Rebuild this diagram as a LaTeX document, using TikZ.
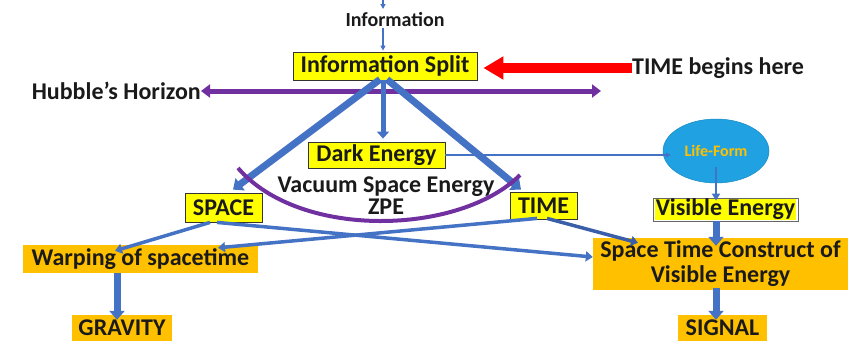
\documentclass[tikz,border=0pt]{standalone}
\usepackage{fontspec}
\setmainfont{Carlito}
\usetikzlibrary{arrows.meta,shapes.geometric,calc}
\definecolor{ablue}{HTML}{4472C4}
\definecolor{dblue}{HTML}{3A5FA8}
\definecolor{apurple}{HTML}{7030A0}
\definecolor{ared}{HTML}{FF0000}
\definecolor{ayellow}{HTML}{FFFF00}
\definecolor{aorange}{HTML}{FFC000}
\definecolor{lblue}{HTML}{20A2E2}
\definecolor{txt}{HTML}{1A1A1A}
\begin{document}
\begin{tikzpicture}[x=1pt,y=-1pt,
  lbl/.style={font=\fontsize{24}{26}\selectfont\bfseries, text=txt, inner sep=0pt},
  ybox/.style={lbl, fill=ayellow, draw=black!80, line width=0.8pt, minimum width=#1},
  obox/.style={lbl, fill=aorange, minimum width=#1},
  thick arrow/.style={draw=ablue, line width=7pt, -{Triangle[length=9pt,width=15pt]}},
  mid arrow/.style={draw=ablue, line width=3.5pt, -{Triangle[length=7pt,width=10pt]}},
  thin arrow/.style={draw=ablue, line width=1.5pt, -{Triangle[length=5pt,width=5pt]}}]
\useasboundingbox (0,0) rectangle (848,341);
% nodes
\node[lbl, font=\fontsize{20}{22}\selectfont\bfseries] (info) at (395,20) {Information};
\coordinate (top) at (383,0);
\node[ybox=184pt, minimum height=28pt] (isplit) at (385,66) {Information Split};
\node[lbl, anchor=west] (tbh) at (632,68) {TIME begins here};
\node[lbl, anchor=east] (hubble) at (201,91) {Hubble’s Horizon};
\coordinate (hend) at (601,91);
\node[ybox=137pt, minimum height=26pt] (dark) at (376.5,155) {Dark Energy};
\node[ybox=77pt, minimum height=29pt] (space) at (223.5,207.5) {SPACE};
\node[ybox=67pt, minimum height=27pt] (time) at (543.5,205.5) {TIME};
\node[lbl, align=center, font=\fontsize{24}{22}\selectfont\bfseries] (vac) at (386,196) {Vacuum Space Energy\\ZPE};
\node[ellipse, fill=lblue, draw=lblue!85!black, line width=0.5pt, minimum width=106pt, minimum height=64pt, inner sep=0pt,
      font=\fontsize{16}{18}\selectfont\bfseries, text=aorange] (life) at (716,151) {Life-Form};
\node[draw=black!60, fill=white, line width=0.8pt, minimum width=145pt, minimum height=23pt, inner sep=0pt] (vis) at (725.5,209.5) {};
\node[lbl, fill=ayellow, inner sep=0.5pt] (vistext) at (vis.center) {Visible Energy};
\node[obox=255pt, minimum height=52pt, align=center, font=\fontsize{24}{25}\selectfont\bfseries] (stc) at (720.5,264) {Space Time Construct of\\Visible Energy};
\node[obox=89pt, minimum height=26pt] (signal) at (722.5,328) {SIGNAL};
\node[obox=235pt, minimum height=28pt] (warp) at (140.5,259) {Warping of spacetime};
\node[obox=100pt, minimum height=26pt] (grav) at (122,328) {GRAVITY};
% connectors
\draw[thin arrow, line width=1.2pt] (top) -- ($(top)+(0,9)$);
\draw[thin arrow, line width=1.3pt] ($(info.south)+(-12,1)$) -- ($(isplit.north)+(-2,-1)$);
\draw[draw=ared, line width=10pt, -{Triangle[length=20pt,width=22pt]}] (tbh.west) -- ($(isplit.east)+(6,2)$);
\draw[draw=apurple, line width=5pt, {Triangle[length=9pt,width=13pt]}-{Triangle[length=9pt,width=13pt]}] (hubble.east) -- (hend);
\draw[thick arrow] ($(isplit.south)+(-5,-1)$) -- ($(space.north)+(9.5,-3)$);
\draw[thick arrow] ($(isplit.south)+(2,-1)$) -- ($(time.north)+(-22.5,-2)$);
\draw[draw=ablue, line width=5pt, -{Triangle[length=7pt,width=12pt]}] ($(isplit.south)+(-2,0)$) -- ($(dark.north)+(6.5,-3)$);
\draw[draw=apurple, line width=4pt] (238,168) .. controls (300,240) and (460,235) .. (520,175);
\draw[thin arrow, line width=1.8pt] (dark.east) -- ($(life.west)+(8,4)$);
\draw[thin arrow, line width=2pt, -{Triangle[length=7pt,width=8pt]}] ($(life.center)+(0,16)$) -- ($(vis.north)+(-9.5,3)$);
\draw[thick arrow] ($(vis.south)+(-9.5,0)$) -- ($(stc.north)+(-4.5,8)$);
\draw[thick arrow] ($(stc.south)+(-4.5,-2)$) -- ($(signal.north)+(-6.5,5)$);
\draw[thick arrow] ($(warp.south)+(-23.5,0)$) -- ($(grav.north)+(-5,5)$);
\draw[mid arrow] ($(space.south)+(-13.5,0)$) -- ($(warp.north)+(-25.5,6)$);
\draw[mid arrow] ($(time.south)+(-6.5,-1)$) -- ($(warp.north)+(77.5,3)$);
\draw[mid arrow] ($(space.south)+(-6.5,0)$) -- ($(stc.west)+(0,-7)$);
\draw[mid arrow, draw=dblue] ($(time.south)+(3.5,-1)$) -- ($(stc.north)+(-82.5,5)$);
\end{tikzpicture}
\end{document}
